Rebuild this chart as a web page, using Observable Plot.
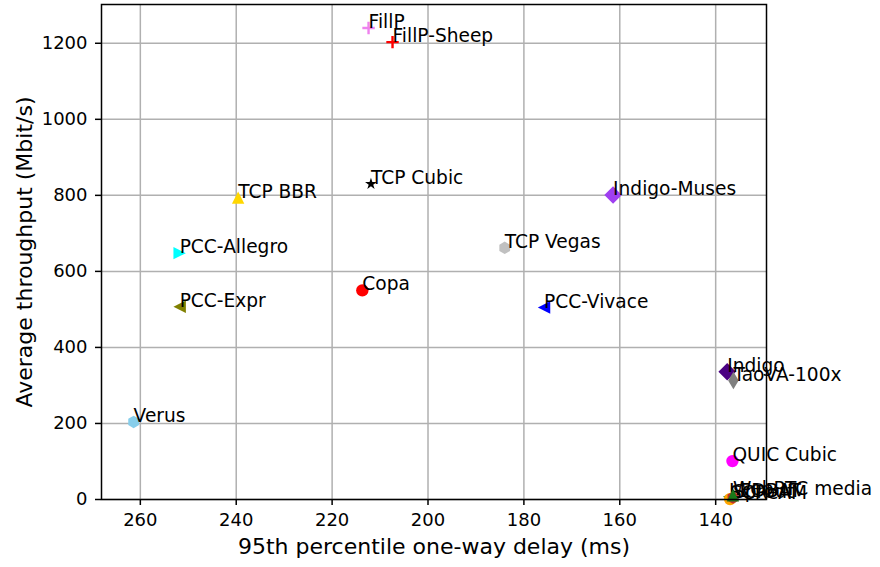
<!DOCTYPE html>
<html><head><meta charset="utf-8">
<script src="https://cdn.jsdelivr.net/npm/d3@7"></script>
<script src="https://cdn.jsdelivr.net/npm/@observablehq/plot@0.6"></script>
<style>body{margin:0;background:#fff} svg{display:block}</style>
</head><body><div id="chart"></div>
<script>
// ---- data ----
const schemes = ["TCP BBR","Copa","TCP Cubic","FillP","FillP-Sheep","Indigo","Indigo-Muses","LEDBAT","PCC-Allegro","PCC-Expr","QUIC Cubic","SCReAM","Sprout","TaoVA-100x","TCP Vegas","Verus","PCC-Vivace","WebRTC media"];
const delays = [239.6, 213.7, 211.9, 212.4, 207.4, 137.6, 161.4, 137.2, 251.8, 251.8, 136.5, 137.0, 136.4, 136.3, 184.0, 261.4, 175.8, 136.4];
const throughputs = [794, 550, 830, 1240, 1203, 336, 801, 7, 648, 507, 101, 1, 5, 313, 662, 204, 505, 11];
const xTicks = [260, 240, 220, 200, 180, 160, 140];
const yTicks = [0, 200, 400, 600, 800, 1000, 1200];

// ---- styles ----
const colors = {"TCP BBR":"#ffd700","Copa":"#ff0000","TCP Cubic":"#000000","FillP":"#ee82ee","FillP-Sheep":"#ff0000","Indigo":"#4b0082","Indigo-Muses":"#9f3ff0","LEDBAT":"#228b22","PCC-Allegro":"#00ffff","PCC-Expr":"#808000","QUIC Cubic":"#ff00ff","SCReAM":"#ffa500","Sprout":"#c03030","TaoVA-100x":"#808080","TCP Vegas":"#c0c0c0","Verus":"#87ceeb","PCC-Vivace":"#0000ff","WebRTC media":"#1a7a1a"};
const markers = {"TCP BBR":"triUp","Copa":"circle","TCP Cubic":"star","FillP":"plus","FillP-Sheep":"plus","Indigo":"diamond","Indigo-Muses":"diamond","LEDBAT":"triLeft","PCC-Allegro":"triRight","PCC-Expr":"triLeft","QUIC Cubic":"circle","SCReAM":"circle","Sprout":"hexagon","TaoVA-100x":"thinDiamond","TCP Vegas":"hexagon","Verus":"hexagon","PCC-Vivace":"triLeft","WebRTC media":"triUp"};

const rows = schemes.map((s, i) => ({name: s, x: delays[i], y: throughputs[i]}));

function poly(ctx, pts) {
  ctx.moveTo(pts[0][0], pts[0][1]);
  for (let k = 1; k < pts.length; k++) ctx.lineTo(pts[k][0], pts[k][1]);
  ctx.closePath();
}
const symbols = {
  circle: {draw(ctx, size){ const h = Math.sqrt(size/Math.PI); ctx.moveTo(h,0); ctx.arc(0,0,h,0,2*Math.PI); }},
  triUp: {draw(ctx, size){ const h = Math.sqrt(size/Math.PI); poly(ctx, [[0,-h],[-h,h],[h,h]]); }},
  triLeft: {draw(ctx, size){ const h = Math.sqrt(size/Math.PI); poly(ctx, [[-h,0],[h,-h],[h,h]]); }},
  triRight: {draw(ctx, size){ const h = Math.sqrt(size/Math.PI); poly(ctx, [[h,0],[-h,-h],[-h,h]]); }},
  diamond: {draw(ctx, size){ const h = Math.sqrt(size/Math.PI)*Math.SQRT2; poly(ctx, [[0,-h],[h,0],[0,h],[-h,0]]); }},
  thinDiamond: {draw(ctx, size){ const h = Math.sqrt(size/Math.PI)*Math.SQRT2; const w = 0.6*h; poly(ctx, [[0,-h],[w,0],[0,h],[-w,0]]); }},
  hexagon: {draw(ctx, size){ const h = Math.sqrt(size/Math.PI); const p=[]; for(let k=0;k<6;k++){const a=-Math.PI/2+k*Math.PI/3; p.push([h*Math.cos(a),h*Math.sin(a)]);} poly(ctx,p); }},
  star: {draw(ctx, size){ const h = Math.sqrt(size/Math.PI); const ri = 0.381966*h; const p=[]; for(let k=0;k<10;k++){const a=-Math.PI/2+k*Math.PI/5; const rr = k%2?ri:h; p.push([rr*Math.cos(a),rr*Math.sin(a)]);} poly(ctx,p); }},
  plus: {draw(ctx, size){ const h = Math.sqrt(size/Math.PI); ctx.moveTo(-h,0); ctx.lineTo(h,0); ctx.moveTo(0,-h); ctx.lineTo(0,h); }}
};

const R = 6.2;
const pointMarks = [];
for (const row of rows) {
  const m = markers[row.name], c = colors[row.name];
  if (m === "plus") {
    pointMarks.push(Plot.dot([row], {x: "x", y: "y", symbol: symbols.plus, r: R, fill: "none", stroke: c, strokeWidth: 2.4}));
  } else {
    pointMarks.push(Plot.dot([row], {x: "x", y: "y", symbol: symbols[m], r: R, fill: c, stroke: "none"}));
  }
  pointMarks.push(Plot.text([row], {x: "x", y: "y", text: "name", textAnchor: "start", lineAnchor: "bottom", fontSize: 18.6, fill: "black", dx: 0}));
}

const chart = Plot.plot({
  width: 880,
  height: 567,
  marginLeft: 101,
  marginRight: 114,
  marginTop: 4,
  marginBottom: 68,
  style: {fontFamily: "'DejaVu Sans', sans-serif", fontSize: "18px", background: "#fff", color: "black"},
  x: {domain: [268.1, 129.4], ticks: xTicks},
  y: {domain: [0, 1302], ticks: yTicks},
  marks: [
    Plot.gridX(xTicks, {stroke: "#b0b0b0", strokeOpacity: 1, strokeWidth: 1.5}),
    Plot.gridY(yTicks, {stroke: "#b0b0b0", strokeOpacity: 1, strokeWidth: 1.5}),
    Plot.axisX(xTicks, {tickSize: 6, tickPadding: 8, fontSize: 18, strokeWidth: 1.5, label: null, tickFormat: d => String(d)}),
    Plot.axisY(yTicks, {tickSize: 6, tickPadding: 8, fontSize: 18, strokeWidth: 1.5, label: null, tickFormat: d => String(d)}),
    ...pointMarks,
    Plot.frame({stroke: "black", strokeWidth: 1.5}),
    Plot.text(["95th percentile one-way delay (ms)"], {frameAnchor: "bottom", dy: 54, lineAnchor: "bottom", textAnchor: "middle", fontSize: 22}),
    Plot.text(["Average throughput (Mbit/s)"], {frameAnchor: "left", dx: -70, rotate: -90, lineAnchor: "bottom", textAnchor: "middle", fontSize: 22})
  ]
});
document.getElementById("chart").appendChild(chart);
</script>
</body></html>
